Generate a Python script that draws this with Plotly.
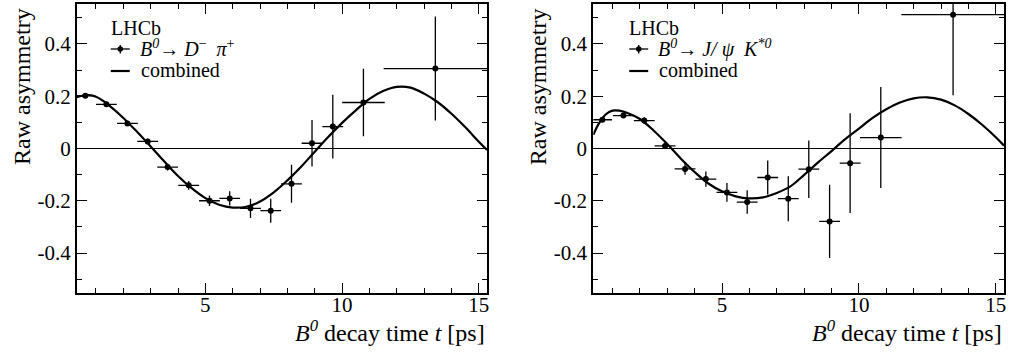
import plotly.graph_objects as go

# ---------------- data ----------------
# B0 -> D- pi+
dpi_t = [0.61, 1.38, 2.15, 2.89, 3.62, 4.39, 5.15, 5.89, 6.65, 7.39, 8.15, 8.90, 9.66, 10.78, 13.41]
dpi_terr = [0.36, 0.38, 0.38, 0.38, 0.38, 0.38, 0.38, 0.38, 0.38, 0.38, 0.38, 0.38, 0.38, 0.78, 1.89]
dpi_a = [0.202, 0.169, 0.096, 0.027, -0.071, -0.141, -0.200, -0.191, -0.229, -0.238, -0.135, 0.020, 0.084, 0.176, 0.306]
dpi_aerr = [0.004, 0.006, 0.008, 0.010, 0.013, 0.017, 0.020, 0.027, 0.037, 0.046, 0.073, 0.089, 0.122, 0.129, 0.199]

# B0 -> J/psi K*0
jpk_t = [0.63, 1.40, 2.16, 2.92, 3.65, 4.41, 5.18, 5.92, 6.67, 7.42, 8.17, 8.93, 9.68, 10.80, 13.44]
jpk_terr = [0.35, 0.38, 0.38, 0.38, 0.38, 0.38, 0.38, 0.38, 0.38, 0.38, 0.38, 0.38, 0.38, 0.76, 1.89]
jpk_a = [0.110, 0.126, 0.107, 0.010, -0.078, -0.117, -0.168, -0.205, -0.111, -0.192, -0.079, -0.279, -0.056, 0.042, 0.512]
jpk_aerr = [0.010, 0.009, 0.013, 0.012, 0.022, 0.029, 0.036, 0.045, 0.065, 0.086, 0.110, 0.140, 0.191, 0.193, 0.308]

# combined fit curves
fit_t = [0.3, 0.5, 0.75, 1.0, 1.25, 1.5, 2.0, 2.5, 3.0, 3.5, 4.0, 4.5, 5.0, 5.5, 6.0, 6.5, 7.0, 7.5,
         8.0, 8.5, 9.0, 9.5, 10.0, 10.5, 11.0, 11.5, 12.0, 12.5, 13.0, 13.5, 14.0, 14.5, 15.0, 15.3]
fit_dpi = [0.196, 0.202, 0.204, 0.198, 0.183, 0.163, 0.117, 0.064, 0.008, -0.050, -0.105, -0.152,
           -0.190, -0.215, -0.226, -0.223, -0.203, -0.168, -0.122, -0.070, -0.012, 0.045, 0.098,
           0.146, 0.190, 0.220, 0.236, 0.233, 0.210, 0.177, 0.133, 0.082, 0.026, -0.006]
fit_jpk = [0.052, 0.095, 0.130, 0.145, 0.145, 0.138, 0.113, 0.069, 0.017, -0.039, -0.090, -0.134,
           -0.164, -0.183, -0.191, -0.187, -0.170, -0.145, -0.101, -0.054, -0.010, 0.036, 0.076,
           0.117, 0.150, 0.176, 0.192, 0.196, 0.187, 0.165, 0.132, 0.091, 0.043, 0.011]

x_ticks = [5, 10, 15]
y_ticks = [-0.4, -0.2, 0, 0.2, 0.4]
y_ticklabels = ["-0.4", "-0.2", "0", "0.2", "0.4"]
x_range = [0.3, 15.3]
y_range = [-0.553, 0.553]

FONT = '"Liberation Serif", "Times New Roman", Times, serif'

label_dpi = "<i>B</i><sup><i>0</i></sup>→ <i>D</i><sup>−</sup>  <i>π</i><sup>+</sup>"
label_jpk = "<i>B</i><sup><i>0</i></sup>→ <i>J/ ψ  K</i><sup><i>*0</i></sup>"
xtitle = "<i>B</i><sup><i>0</i></sup> decay time <i>t</i> [ps]"

W, H = 1009, 352
M_T, M_B = 4, 59
PH = H - M_T - M_B


def px(x):
    return x / W


def py(y):
    return (H - M_B - y) / PH


fig = go.Figure()


def add_panel(t, terr, a, aerr, ft, fa, label, xa, ya):
    fig.add_trace(go.Scatter(
        x=t, y=a, mode="markers", name=label,
        marker=dict(color="black", size=6),
        error_x=dict(type="data", array=terr, color="black", thickness=1.3, width=0),
        error_y=dict(type="data", array=aerr, color="black", thickness=1.3, width=0),
        xaxis=xa, yaxis=ya, showlegend=False))
    fig.add_trace(go.Scatter(
        x=ft, y=fa, mode="lines", name="combined",
        line=dict(color="black", width=2.2, shape="spline", smoothing=1.0),
        xaxis=xa, yaxis=ya, showlegend=False))


add_panel(dpi_t, dpi_terr, dpi_a, dpi_aerr, fit_t, fit_dpi, label_dpi, "x", "y")
add_panel(jpk_t, jpk_terr, jpk_a, jpk_aerr, fit_t, fit_jpk, label_jpk, "x2", "y2")

common_x = dict(range=x_range, tickmode="array", tickvals=x_ticks, ticks="inside", ticklen=10,
                tickwidth=1.3, tickcolor="black", showline=True, linecolor="black", linewidth=2,
                mirror="allticks", showgrid=False, zeroline=False, ticklabelstandoff=-8,
                tickfont=dict(family=FONT, size=21, color="black"),
                minor=dict(dtick=1, tick0=0, ticks="inside", ticklen=5, tickwidth=1.2,
                           tickcolor="black", showgrid=False))
common_y = dict(range=y_range, tickmode="array", tickvals=y_ticks, ticktext=y_ticklabels,
                ticks="inside", ticklen=10, tickwidth=1.3, tickcolor="black", showline=True,
                linecolor="black", linewidth=2, mirror="allticks", showgrid=False,
                zeroline=True, zerolinecolor="black", zerolinewidth=1.2,
                tickfont=dict(family=FONT, size=21, color="black"),
                minor=dict(dtick=0.1, tick0=0, ticks="inside", ticklen=5, tickwidth=1.2,
                           tickcolor="black", showgrid=False))

d1 = [px(77), px(488)]
d2 = [px(594.5), px(1006)]

fig.update_layout(
    width=W, height=H, margin=dict(l=0, r=0, t=M_T, b=M_B),
    paper_bgcolor="white", plot_bgcolor="white",
    font=dict(family=FONT, color="black"),
    xaxis=dict(domain=d1, anchor="y", **common_x),
    yaxis=dict(domain=[0, 1], anchor="x", **common_y),
    xaxis2=dict(domain=d2, anchor="y2", **common_x),
    yaxis2=dict(domain=[0, 1], anchor="x2", **common_y),
    showlegend=False,
)

ann_font = dict(family=FONT, size=24, color="black")
leg_font = dict(family=FONT, size=20, color="black")

# axis titles
for dom in (d1, d2):
    fig.add_annotation(text=xtitle, xref="paper", yref="paper", x=dom[1], y=py(331),
                       xanchor="right", yanchor="middle", showarrow=False, font=ann_font)
for xc in (21.5, 538.8):
    fig.add_annotation(text="Raw asymmetry", xref="paper", yref="paper", x=px(xc), y=py(6),
                       xanchor="center", yanchor="top", textangle=-90, showarrow=False, font=ann_font)

# legends (ROOT style: LHCb label, errorbar symbol, line symbol)
for x0, label in ((111, label_dpi), (630.5, label_jpk)):
    fig.add_annotation(text="LHCb", xref="paper", yref="paper", x=px(x0 - 2), y=py(27.5),
                       xanchor="left", yanchor="middle", showarrow=False, font=leg_font)
    fig.add_annotation(text=label, xref="paper", yref="paper", x=px(x0 + 27), y=py(48),
                       xanchor="left", yanchor="middle", showarrow=False, font=leg_font)
    fig.add_annotation(text="combined", xref="paper", yref="paper", x=px(x0 + 28), y=py(70),
                       xanchor="left", yanchor="middle", showarrow=False, font=leg_font)
    xm = x0 + 9.5
    # errorbar symbol
    fig.add_shape(type="line", xref="paper", yref="paper", x0=px(x0), x1=px(x0 + 19),
                  y0=py(49), y1=py(49), line=dict(color="black", width=1.3))
    fig.add_shape(type="line", xref="paper", yref="paper", x0=px(xm), x1=px(xm),
                  y0=py(45), y1=py(53.5), line=dict(color="black", width=1.3))
    fig.add_shape(type="circle", xref="paper", yref="paper", x0=px(xm - 2.8), x1=px(xm + 2.8),
                  y0=py(46.2), y1=py(51.8), fillcolor="black", line=dict(color="black", width=0))
    # line symbol
    fig.add_shape(type="line", xref="paper", yref="paper", x0=px(x0), x1=px(x0 + 19),
                  y0=py(71), y1=py(71), line=dict(color="black", width=2.2))

fig.write_html("out.html", config={"displayModeBar": False},
               post_script="document.body.style.margin='0px';")
